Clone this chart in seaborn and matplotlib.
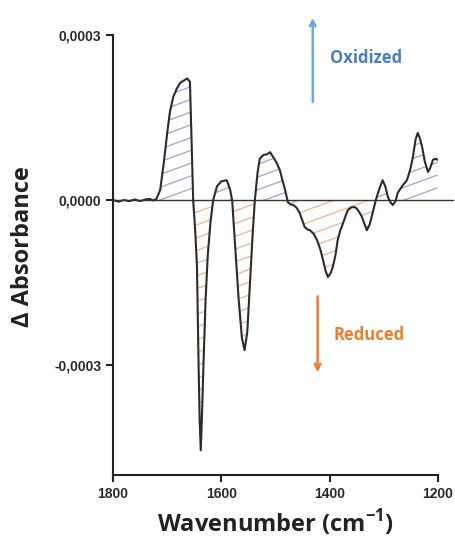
import matplotlib
matplotlib.use("Agg")
import matplotlib.pyplot as plt
import numpy as np
import pandas as pd
import seaborn as sns
from matplotlib.collections import LineCollection
from matplotlib.path import Path

# spectrum (wavenumber in cm-1, delta absorbance)
wavenumber = [1800, 1790, 1780, 1770, 1760, 1750, 1740, 1732, 1726, 1720,
              1713, 1706, 1700, 1695, 1689, 1682, 1676, 1668, 1663, 1658,
              1655, 1652, 1648, 1645, 1642, 1640, 1638, 1636, 1633, 1629,
              1625, 1620, 1615, 1608, 1600, 1590, 1584, 1580, 1574, 1568,
              1562, 1557, 1552, 1547, 1542, 1538, 1533, 1529, 1522, 1516,
              1510, 1504, 1498, 1492, 1487, 1482, 1477, 1472, 1467, 1461,
              1455, 1446, 1440, 1436, 1429, 1423, 1417, 1412, 1407, 1403,
              1398, 1394, 1389, 1385, 1380, 1375, 1370, 1366, 1359, 1354,
              1350, 1345, 1340, 1335, 1331, 1326, 1322, 1317, 1313, 1308,
              1302, 1297, 1292, 1287, 1283, 1278, 1274, 1266, 1257, 1251,
              1246, 1241, 1237, 1233, 1229, 1224, 1218, 1214, 1209, 1204, 1200]
delta_abs = [0.0, -0.000003, 0.0, -0.000002, 0.000001, -0.000002, 0.000001, 0.000002, -0.000001, 0.000002,
             0.000018, 0.000070, 0.000122, 0.000160, 0.000187, 0.000203, 0.000213, 0.000218, 0.000221, 0.000215,
             0.000110, 0.0, -0.000060, -0.000120, -0.000300, -0.000400, -0.000455, -0.000400, -0.000300, -0.000180,
             -0.000100, -0.000040, 0.0, 0.000025, 0.000034, 0.000036, 0.000020, 0.0, -0.000090, -0.000180,
             -0.000250, -0.000273, -0.000240, -0.000150, -0.000060, 0.0, 0.000050, 0.000075, 0.000082, 0.000083,
             0.000087, 0.000078, 0.000068, 0.000055, 0.000036, 0.000018, -0.000004, -0.000008, -0.000009, -0.000014,
             -0.000024, -0.000049, -0.000054, -0.000055, -0.000062, -0.000073, -0.000090, -0.000109, -0.000130, -0.000140,
             -0.000133, -0.000122, -0.000100, -0.000073, -0.000055, -0.000042, -0.000028, -0.000018, -0.000013, -0.000013,
             -0.000015, -0.000022, -0.000031, -0.000045, -0.000055, -0.000045, -0.000030, -0.000010, 0.000005, 0.000020,
             0.000036, 0.000025, 0.000005, -0.000005, -0.000009, -0.000002, 0.000013, 0.000025, 0.000036, 0.000055,
             0.000078, 0.000110, 0.000122, 0.000112, 0.000097, 0.000070, 0.000051, 0.000058, 0.000073, 0.000075, 0.000073]

y_ticks = [0.0003, 0.0, -0.0003]
y_tick_labels = ["0,0003", "0,0000", "-0,0003"]
x_ticks = [1800, 1600, 1400, 1200]
x_tick_labels = ["1800", "1600", "1400", "1200"]

OX_BLUE = "#6fa6da"
OX_TEXT = "#4a7fbf"
RED_ORANGE = "#ed7d31"
HATCH_BLUE = "#a0a0dc"
HATCH_ORANGE = "#f5b08a"

sns.set_style("ticks")

df = pd.DataFrame({"wavenumber": wavenumber, "delta": delta_abs})
x = df["wavenumber"].to_numpy()
y = df["delta"].to_numpy()

fig = plt.figure(figsize=(4.56, 5.42), dpi=100)
ax = fig.add_axes([0.248, 0.1236, 0.712, 0.8118])
ax.set_xlim(1800, 1200)
ax.set_ylim(-0.0005, 0.0003)


def shallow_hatch(where, color):
    """fill between curve and zero with shallow diagonal hatch lines"""
    poly = ax.fill_between(x, y, 0, where=where, interpolate=True,
                           facecolor="none", edgecolor="none", linewidth=0)
    clip = Path.make_compound_path(*poly.get_paths())
    slope = 0.27      # axes units, ~20 degrees on screen
    step = 0.029
    segs = [[(0, c), (1, c + slope)] for c in np.arange(-0.4, 1.05, step)]
    lc = LineCollection(segs, colors=color, linewidths=0.9, transform=ax.transAxes)
    ax.add_collection(lc)
    lc.set_clip_path(clip, ax.transData)


shallow_hatch(y >= 0, HATCH_BLUE)
shallow_hatch(y <= 0, HATCH_ORANGE)

sns.lineplot(data=df, x="wavenumber", y="delta", ax=ax, color="#2b2b2b",
             lw=1.5, sort=False, estimator=None)
# zero baseline runs a bit past the last tick
ax.plot([1800, 1172], [0, 0], color="#333333", lw=1.0, clip_on=False)

ax.set_xlim(1800, 1200)
ax.set_ylim(-0.0005, 0.0003)
ax.set_xticks(x_ticks)
ax.set_xticklabels(x_tick_labels)
ax.set_yticks(y_ticks)
ax.set_yticklabels(y_tick_labels)
for lab in ax.get_xticklabels() + ax.get_yticklabels():
    lab.set_fontfamily("Liberation Sans")
    lab.set_fontweight("bold")
    lab.set_fontsize(10)
    lab.set_color("#2a2a2a")
ax.tick_params(direction="out", length=5, width=1.5, color="#222222")
sns.despine(ax=ax)
for s in ("left", "bottom"):
    ax.spines[s].set_linewidth(1.5)
    ax.spines[s].set_color("#222222")
ax.set_xlabel("")
ax.set_ylabel("")

fig.text(0.605, 0.019, "Wavenumber (cm$^{\\mathregular{-1}}$)", fontfamily="Open Sans",
         fontweight="bold", fontsize=17, ha="center", va="baseline", color="#222222")
fig.text(0.05, 0.545, "\u0394 Absorbance", fontfamily="Open Sans", fontweight="bold",
         fontsize=17, rotation=90, ha="center", va="center", color="#222222")

ax.annotate("", xy=(1431, 0.000336), xytext=(1431, 0.000173),
            arrowprops=dict(arrowstyle="->", color=OX_BLUE, lw=1.8), annotation_clip=False)
ax.text(1399, 0.000258, "Oxidized", color=OX_TEXT, fontfamily="Open Sans",
        fontweight="bold", fontsize=12, va="center", ha="left")
ax.annotate("", xy=(1422, -0.000318), xytext=(1422, -0.000170),
            arrowprops=dict(arrowstyle="->", color=RED_ORANGE, lw=1.8), annotation_clip=False)
ax.text(1392, -0.000245, "Reduced", color=RED_ORANGE, fontfamily="Open Sans",
        fontweight="bold", fontsize=12, va="center", ha="left")

fig.savefig("out.png", dpi=100)
